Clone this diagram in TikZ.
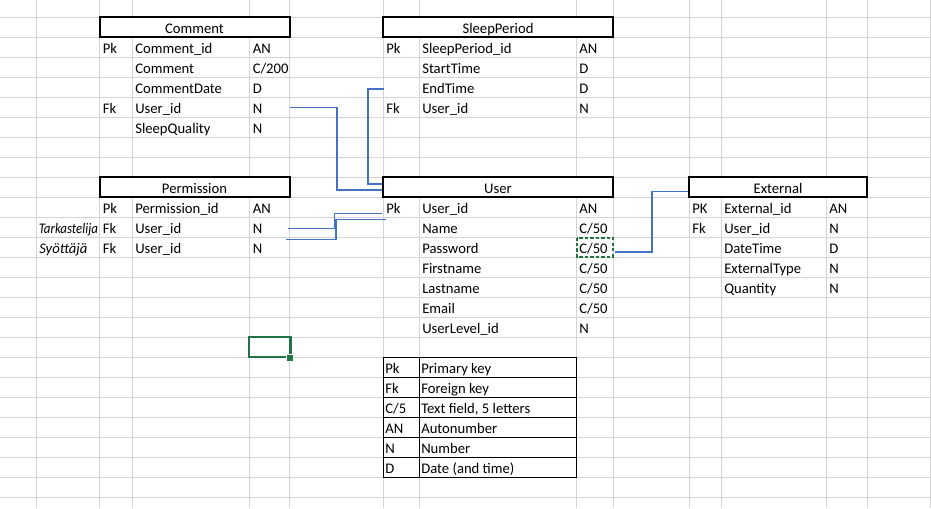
\documentclass[tikz,border=0pt]{standalone}
\usepackage{fontspec}
\setmainfont{Carlito}
\definecolor{gridc}{HTML}{D4D4D4}
\definecolor{connc}{HTML}{4472C4}
\definecolor{xlgreen}{HTML}{217346}
\tikzset{
  cell/.style={anchor=base west, inner sep=0pt, font=\fontsize{11}{13}\selectfont, text=black},
  hdrtext/.style={anchor=base, inner sep=0pt, font=\fontsize{11}{13}\selectfont, text=black},
  hdrbox/.style={draw=black, fill=white, line width=1.5pt},
  gridline/.style={draw=gridc, line width=0.75pt},
  connline/.style={draw=connc, line width=0.8pt},
  legendline/.style={draw=black, line width=0.75pt},
  selbox/.style={draw=xlgreen, line width=1.6pt},
  copybox/.style={draw=xlgreen, line width=1.5pt, dash pattern=on 2.5pt off 1.6pt}
}
\newcommand\cellrow[8]{%
  \node[cell] (#1k) at (#3,#2) {#4};
  \node[cell] (#1n) at (#5,#2) {#6};
  \node[cell] (#1t) at (#7,#2) {#8};}
\begin{document}
\begin{tikzpicture}[x=0.75pt,y=-0.75pt]
\useasboundingbox (0,0) rectangle (931,508);
\fill[white] (0,0) rectangle (931,508);
% grid
\foreach \x in {36,99.5,132,249.5,289.5,383,419,576,613,689,721,826,867,930}
  \draw[gridline] (\x,0) -- (\x,508);
\foreach \k in {0,...,24}
  \draw[gridline] (0,{17+20*\k}) -- (931,{17+20*\k});

% connectors
\coordinate (c1a) at (290,107.5);
\coordinate (c1m1) at (337,107.5);
\coordinate (c1m2) at (337,190);
\coordinate (c1b) at (384,190);
\draw[connline] (c1a) -- (c1m1) -- (c1m2) -- (c1b);
\coordinate (c2a) at (384,89);
\coordinate (c2m1) at (368,89);
\coordinate (c2m2) at (368,184);
\coordinate (c2b) at (384,184);
\draw[connline] (c2a) -- (c2m1) -- (c2m2) -- (c2b);
\coordinate (c3a) at (288,228.5);
\coordinate (c3m1) at (334.5,228.5);
\coordinate (c3m2) at (334.5,213.5);
\coordinate (c3b) at (382,213.5);
\draw[connline] (c3a) -- (c3m1) -- (c3m2) -- (c3b);
\coordinate (c4a) at (286,239.5);
\coordinate (c4m1) at (336,239.5);
\coordinate (c4m2) at (336,219.5);
\coordinate (c4b) at (386,219.5);
\draw[connline] (c4a) -- (c4m1) -- (c4m2) -- (c4b);
\coordinate (c5a) at (615,252);
\coordinate (c5m1) at (652,252);
\coordinate (c5m2) at (652,191.5);
\coordinate (c5b) at (689,191.5);
\draw[connline] (c5a) -- (c5m1) -- (c5m2) -- (c5b);

% Comment table
\draw[hdrbox] (99.5,17) rectangle (289.5,37);
\node[hdrtext] (comment) at (194.5,33) {Comment};
\cellrow{cm1}{53}{102.5}{Pk}{135}{Comment\_id}{252.5}{AN}
\cellrow{cm2}{73}{102.5}{}{135}{Comment}{252.5}{C/200}
\cellrow{cm3}{93}{102.5}{}{135}{CommentDate}{252.5}{D}
\cellrow{cm4}{113}{102.5}{Fk}{135}{User\_id}{252.5}{N}
\cellrow{cm5}{133}{102.5}{}{135}{SleepQuality}{252.5}{N}

% SleepPeriod table
\draw[hdrbox] (383,17) rectangle (613,37);
\node[hdrtext] (sleep) at (498,33) {SleepPeriod};
\cellrow{sp1}{53}{386}{Pk}{422}{SleepPeriod\_id}{579}{AN}
\cellrow{sp2}{73}{386}{}{422}{StartTime}{579}{D}
\cellrow{sp3}{93}{386}{}{422}{EndTime}{579}{D}
\cellrow{sp4}{113}{386}{Fk}{422}{User\_id}{579}{N}

% Permission table
\draw[hdrbox] (99.5,177) rectangle (289.5,197);
\node[hdrtext] (perm) at (194.5,193) {Permission};
\cellrow{pm1}{213}{102.5}{Pk}{135}{Permission\_id}{252.5}{AN}
\cellrow{pm2}{233}{102.5}{Fk}{135}{User\_id}{252.5}{N}
\cellrow{pm3}{253}{102.5}{Fk}{135}{User\_id}{252.5}{N}
\node[cell, font=\fontsize{11}{13}\selectfont\itshape] (tark) at (38.5,233) {\scalebox{0.88}[1]{Tarkastelija}};
\node[cell, font=\fontsize{11}{13}\selectfont\itshape] (syot) at (39,253) {Syöttäjä};

% User table
\draw[hdrbox] (383,177) rectangle (613,197);
\node[hdrtext] (user) at (498,193) {User};
\cellrow{us1}{213}{386}{Pk}{422}{User\_id}{579}{AN}
\cellrow{us2}{233}{386}{}{422}{Name}{579}{C/50}
\cellrow{us3}{253}{386}{}{422}{Password}{579}{C/50}
\cellrow{us4}{273}{386}{}{422}{Firstname}{579}{C/50}
\cellrow{us5}{293}{386}{}{422}{Lastname}{579}{C/50}
\cellrow{us6}{313}{386}{}{422}{Email}{579}{C/50}
\cellrow{us7}{333}{386}{}{422}{UserLevel\_id}{579}{N}
\draw[copybox] (576.5,237.5) rectangle (612.5,256.5);

% External table
\draw[hdrbox] (689,177) rectangle (867,197);
\node[hdrtext] (ext) at (778,193) {External};
\cellrow{ex1}{213}{692}{PK}{724}{External\_id}{829}{AN}
\cellrow{ex2}{233}{692}{Fk}{724}{User\_id}{829}{N}
\cellrow{ex3}{253}{692}{}{724}{DateTime}{829}{D}
\cellrow{ex4}{273}{692}{}{724}{ExternalType}{829}{N}
\cellrow{ex5}{293}{692}{}{724}{Quantity}{829}{N}

% selection
\draw[selbox] (249,337) rectangle (290.5,357);
\fill[white] (285.5,353.5) rectangle (293.5,361.5);
\fill[xlgreen] (287,355) rectangle (292.5,360.5);

% Legend
\fill[white] (383,357) rectangle (576,477);
\draw[legendline] (383,357) rectangle (576,477);
\foreach \k in {1,...,5}
  \draw[legendline] (383,{357+20*\k}) -- (576,{357+20*\k});
\draw[legendline] (419,357) -- (419,477);
\node[cell] (lg1a) at (385,373) {Pk};
\node[cell] (lg1b) at (421,373) {Primary key};
\node[cell] (lg2a) at (385,393) {Fk};
\node[cell] (lg2b) at (421,393) {Foreign key};
\node[cell] (lg3a) at (385,413) {C/5};
\node[cell] (lg3b) at (421,413) {Text field, 5 letters};
\node[cell] (lg4a) at (385,433) {AN};
\node[cell] (lg4b) at (421,433) {Autonumber};
\node[cell] (lg5a) at (385,453) {N};
\node[cell] (lg5b) at (421,453) {Number};
\node[cell] (lg6a) at (385,473) {D};
\node[cell] (lg6b) at (421,473) {Date (and time)};
\end{tikzpicture}
\end{document}
